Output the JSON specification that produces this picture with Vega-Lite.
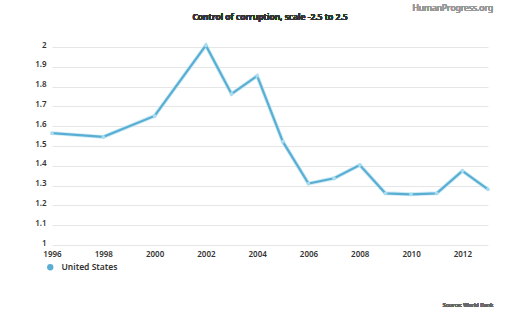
{
  "$schema": "https://vega.github.io/schema/vega-lite/v6.json",
  "width": 436,
  "height": 198,
  "autosize": {"type": "none"},
  "padding": {"left": 52, "top": 47, "right": 23, "bottom": 76},
  "background": "white",
  "config": {
    "view": {"stroke": null},
    "font": "Noto Sans",
    "axisX": {"tickCount": 9, "format": "d", "title": null, "grid": false, "ticks": false, "domain": false, "labelFontSize": 8, "labelFontWeight": 600, "labelColor": "#333333", "labelPadding": 5, "labelFlush": false, "labelOverlap": false},
    "axisY": {"tickCount": 10, "format": "~g", "title": null, "ticks": false, "domain": false, "grid": true, "gridColor": "#e6e6e6", "gridWidth": 1, "labelFontSize": 8, "labelFontWeight": 600, "labelColor": "#333333", "labelPadding": 6, "labelBaseline": "alphabetic", "labelOverlap": false, "labelFlush": false}
  },
  "data": {
    "values": [
      {"year": 1996, "value": 1.565, "country": "United States"},
      {"year": 1998, "value": 1.546, "country": "United States"},
      {"year": 2000, "value": 1.652, "country": "United States"},
      {"year": 2002, "value": 2.008, "country": "United States"},
      {"year": 2003, "value": 1.763, "country": "United States"},
      {"year": 2004, "value": 1.854, "country": "United States"},
      {"year": 2005, "value": 1.522, "country": "United States"},
      {"year": 2006, "value": 1.31, "country": "United States"},
      {"year": 2007, "value": 1.337, "country": "United States"},
      {"year": 2008, "value": 1.404, "country": "United States"},
      {"year": 2009, "value": 1.261, "country": "United States"},
      {"year": 2010, "value": 1.256, "country": "United States"},
      {"year": 2011, "value": 1.261, "country": "United States"},
      {"year": 2012, "value": 1.374, "country": "United States"},
      {"year": 2013, "value": 1.281, "country": "United States"}
    ]
  },
  "layer": [
    {
      "mark": {"type": "line", "strokeWidth": 4, "color": "#bfe6f3", "opacity": 0.8},
      "encoding": {
        "x": {"field": "year", "type": "quantitative", "scale": {"domain": [1996, 2013], "nice": false, "zero": false}, "axis": {"tickCount": 9}},
        "y": {"field": "value", "type": "quantitative", "scale": {"domain": [1, 2], "nice": false, "zero": false}, "axis": {"tickCount": 10}}
      }
    },
    {
      "mark": {"type": "line", "strokeWidth": 2.2},
      "encoding": {
        "x": {"field": "year", "type": "quantitative"},
        "y": {"field": "value", "type": "quantitative"},
        "color": {"field": "country", "type": "nominal", "scale": {"range": ["#5aaed3"]},
          "legend": {"title": null, "orient": "none", "legendX": -6, "legendY": 216, "symbolType": "circle", "symbolSize": 40, "labelFontSize": 8.5, "labelFontWeight": 600, "labelColor": "#333333", "labelOffset": 7, "symbolStrokeWidth": 0, "symbolFillColor": "#5aaed3", "symbolOpacity": 1}}
      }
    },
    {
      "mark": {"type": "point", "filled": true, "size": 14, "color": "#a9dcef", "opacity": 1},
      "encoding": {
        "x": {"field": "year", "type": "quantitative"},
        "y": {"field": "value", "type": "quantitative"}
      }
    },
    {
      "mark": {"type": "text", "align": "center", "baseline": "middle", "fontSize": 8.5, "fontWeight": 600, "color": "#333333", "clip": false},
      "encoding": {
        "x": {"datum": 2004.5, "type": "quantitative"},
        "y": {"datum": 2.152, "type": "quantitative"},
        "text": {"value": "Control of corruption, scale -2.5 to 2.5"}
      }
    },
    {
      "mark": {"type": "text", "align": "right", "baseline": "middle", "fontSize": 8.5, "fontWeight": "normal", "color": "#999999", "clip": false},
      "encoding": {
        "x": {"datum": 2013.2, "type": "quantitative"},
        "y": {"datum": 2.197, "type": "quantitative"},
        "text": {"value": "HumanProgress.org"}
      }
    },
    {
      "mark": {"type": "text", "align": "right", "baseline": "middle", "fontSize": 5.5, "fontWeight": "normal", "color": "#666666", "clip": false},
      "encoding": {
        "x": {"datum": 2013.2, "type": "quantitative"},
        "y": {"datum": 0.697, "type": "quantitative"},
        "text": {"value": "Source: World Bank"}
      }
    }
  ]
}
